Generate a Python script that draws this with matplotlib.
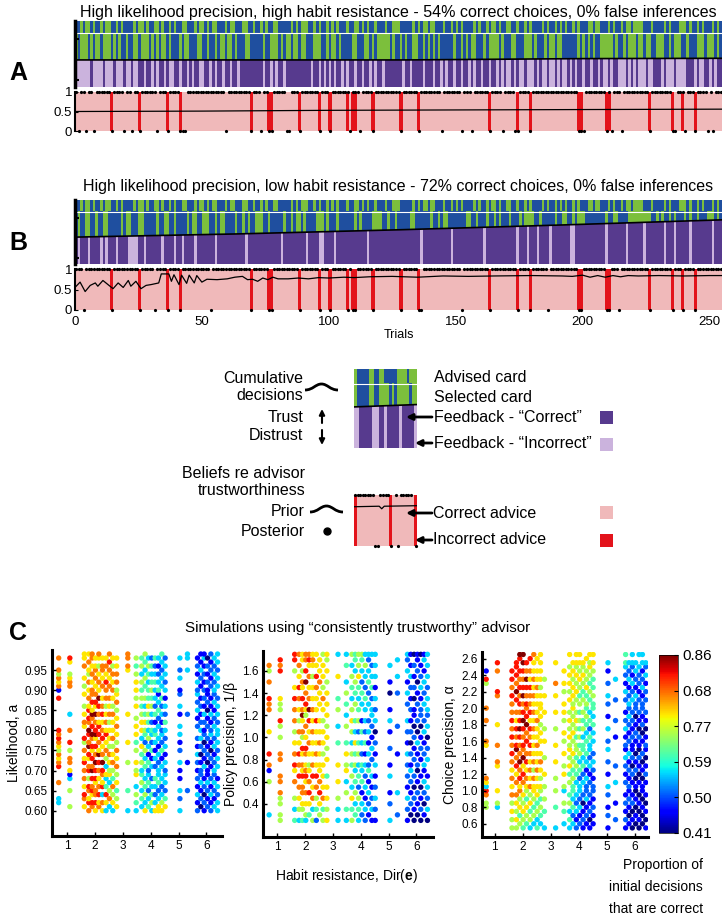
import numpy as np
import matplotlib
matplotlib.use('Agg')
import matplotlib.pyplot as plt
from matplotlib.colors import ListedColormap
from matplotlib.patches import Polygon, PathPatch, Rectangle
from matplotlib.path import Path

plt.rcParams['font.family'] = ['Liberation Sans', 'DejaVu Sans']
plt.rcParams['mathtext.fontset'] = 'custom'
plt.rcParams['mathtext.rm'] = 'Liberation Sans'
plt.rcParams['mathtext.bf'] = 'Liberation Sans:bold'

W, H = 722, 916

# ---- panels A / B: trial-by-trial sequences (1 = blue card / correct feedback)
ADVISED = ("1101001011 0100110101 1110100101 1001011010 1100111010 0101001110 1001110011 "
           "0110101100 1111101010 0011010110 1010111011 0010101101 1101100011 1110101001 "
           "0011101101 0101111010 1101001011 0011011010 1111010110 1010110101 1100100111 "
           "0101101001 0000111011 1101011100 0101101011 10101")
SEL_A = ("0100010100 1000101011 0110010001 0101001011 1010011100 1101101001 0010111001 "
         "1111011000 1010010010 0111000110 1001011110 0111001010 0000101101 0110011010 "
         "1010111110 1101010011 1010000101 1100111000 1011101001 0011111101 0101011000 "
         "0010110100 0100100110 0011010001 1011100010 00101")
FB_A = ("0000001000 0100010001 0010011011 0101101001 1011010110 0110101101 1011011111 "
        "1111011010 1101111111 1110110101 0101101011 0110110101 1011111110 1101111011 "
        "1011010110 1101101011 0110110101 0010100100 0101001001 0100101011 0110110100 "
        "1011000101 0100010011 1010001000 0111010011 01011")
SEL_B = ("1011001101 1001111101 0011100111 1101100110 1111010011 0001101001 1110110101 "
         "1000110111 1101101001 0111100010 1110111111 0101111000 0110110111 1100111111 "
         "0110100111 1111001101 1101101011 1011101000 0110111110 1100110100 0111111110 "
         "1100111100 0000000110 1011010111 0101101110 00101")
FB_B = ("1011101111 0101110111 1000011011 1111011110 1101111011 1111101111 1111111011 "
        "1111111111 1011111111 1011110011 1101111111 1111101111 1111111111 1111110111 "
        "1111111101 1111111111 1011111111 1111011101 1101111011 1111100111 1111111110 "
        "1111111011 1111011111 1101110111 1101111111 10111")

INCORRECT = [14, 25, 36, 41, 69, 76, 77, 88, 96, 100, 107, 109, 110, 117, 128, 135,
             163, 174, 179, 198, 199, 209, 210, 226, 235, 239, 244]
BOTTOM_A = [1, 4, 7, 14, 19, 22, 25, 32, 36, 41, 42, 43, 59, 69, 73, 76, 77, 83, 84, 88,
            96, 100, 108, 112, 117, 128, 135, 144, 152, 156, 163, 168, 173, 174, 179,
            198, 199, 200, 209, 211, 215, 226, 235, 236, 240, 244, 249, 251]
BOTTOM_B = [3, 14, 25, 31, 36, 41, 53, 69, 76, 77, 88, 96, 100, 107, 109, 110, 117, 128,
            135, 136, 152, 163, 174, 179, 186, 198, 199, 209, 210, 214, 226, 235, 239, 244]

CUM_A_T = [0, 130, 200, 255]
CUM_A_Y = [0.41, 0.41, 0.43, 0.435]
CUM_B_T = [0, 64, 128, 192, 255]
CUM_B_Y = [0.42, 0.47, 0.535, 0.61, 0.69]

PRIOR_A_T = [0, 50, 100, 150, 200, 255]
PRIOR_A_Y = [0.50, 0.51, 0.53, 0.54, 0.55, 0.56]
PRIOR_B_T = [0, 2, 4, 6, 8, 9, 11, 13, 15, 17, 19, 21, 22, 24, 26, 28, 30, 33, 34, 37, 38,
             39, 41, 42, 44, 45, 47, 48, 50, 52, 56, 60, 63, 66, 68, 70, 72, 74, 76, 78,
             80, 84, 88, 92, 96, 100, 106, 110, 116, 125, 135, 145, 155, 165, 180, 192,
             196, 200, 203, 206, 209, 212, 215, 218, 222, 230, 240, 250, 255]
PRIOR_B_Y = [0.55, 0.68, 0.45, 0.60, 0.66, 0.58, 0.72, 0.62, 0.52, 0.66, 0.55, 0.72,
             0.58, 0.70, 0.52, 0.60, 0.62, 0.66, 0.88, 0.88, 0.70, 0.86, 0.62, 0.85,
             0.65, 0.85, 0.66, 0.84, 0.68, 0.75, 0.74, 0.76, 0.80, 0.82, 0.74, 0.75,
             0.70, 0.78, 0.74, 0.80, 0.76, 0.76, 0.78, 0.76, 0.79, 0.78, 0.80, 0.79,
             0.81, 0.82, 0.80, 0.83, 0.82, 0.83, 0.84, 0.83, 0.82, 0.85, 0.80, 0.84,
             0.80, 0.84, 0.81, 0.84, 0.83, 0.84, 0.83, 0.84, 0.84]

# legend mini example
MINI_ADV = "0111110011001111100001000"
MINI_SEL = "0111110011000010100000100"
MINI_FB = "0011111000110111110111110"
MINI_LINE_T = [0, 25]
MINI_LINE_Y = [0.52, 0.55]
MINI_RED = [0, 14, 24]
MINI_TOP = [0, 1, 2, 3, 4, 5, 6, 7, 10, 11, 12, 13, 16, 18, 19, 20, 21, 22]
MINI_BOTTOM = [8, 9, 14, 17, 24]
MINI_PRIOR_T = [0, 10, 11, 12, 25]
MINI_PRIOR_Y = [0.77, 0.78, 0.73, 0.78, 0.79]

# ---- panel C: columns of simulations (digit d -> proportion 0.41 + 0.05 d, '.' = none)
X_COLS = [0.70, 1.10, 1.62, 1.78, 1.90, 2.02, 2.14, 2.27, 2.40, 2.52, 2.64, 2.78, 3.18,
          3.48, 3.68, 3.80, 3.92, 4.04, 4.16, 4.28, 4.40, 4.52, 5.05, 5.32, 5.68, 5.80,
          5.92, 6.04, 6.16, 6.28, 6.40]
LIK_COLS = [
    "..33...7.. .876756787 8.......8. 176757..7.",
    ".5...5..31 6.77.5.8.. 7...3..... .7765..68.",
    ".6.78.6.7. 7.86.7.58. .67.6.5..6 .5.6..7.66",
    "7.86.78.5. 87.68.97.8 9.78.86.7. 6.7.56.7.6",
    ".78.687.8. 97.8.68.79 .8.796.8.7 7.6.7.6.77",
    "6.8.77.68. 8.9.7.8.69 8.7.9.68.7 .6.7.76.6.",
    ".76.8.7.6. 7.8.96.7.8 .86.7.8.9. 6.7.6.5.67",
    "6.7.3.86.7 8.9.7.6.8. 7.6.8.7.6. .7.6.77.6.",
    "3.6.8.4.36 .3.5.7.6.8 6.7.6.5.7. 7.8.6.7.6.",
    ".3.7.5.3.6 5.6.7.5.6. 6.5.7.6.7. .7.6.7.8.7",
    "3.6.5.7.4. 5.7.6.5.7. 6.6.7.5.6. 7.6.7.5.6.",
    ".6.5.4.6.5 .7.6.7.5.6 .7.6.5.7.6 5.7.7.6.6.",
    "3....4.... ..5....6.. ....6..... .....67.77",
    "3.4.5.3..6 5.6..5.4.6 .6.5..6.5. 6.6.5.4.5.",
    ".3.4.3.5.4 3.5.4.6.3. 6.6.5.4.5. 4.5.3.5.4.",
    "6.3.5.4.3. .4.3.5.2.4 5.6.4.3.5. .4.5.3.4.5",
    ".4.3.2.4.3 2.4.1.3.5. 3.4.5.6.4. 4.3.4.5.3.",
    "3.5.4.3.2. .3.1.4.2.3 4.2.3.5.4. 5.4.3.4.2.",
    "6.3.2.3.4. .2.3.1.3.4 3.1.4.2.3. 3.4.3.2.4.",
    "66.3.2.4.3 3.2.3.1.3. .3.2.4.3.1 4.3.2.1.3.",
    "6.5.3.2.3. .3.1.4.2.3 2.1.3.2.4. .3.3.2.3.4",
    ".6.4.2.3.3 2.3.1.3.2. 3.4.2.3.1. 3.2.3.3.2.",
    "3..2.3..1. 1.3..2.1.3 .3..1.3..2 1..3.2..3.",
    ".....2.... ..1....... ....2..... .....3..33",
    "2.1.3.1.2. 1.2.3.1.2. .2.1.3.2.3 2.3.1.2.1.",
    ".0.2.1.3.2 2.1.0.2.3. 3.2.1.2.1. .1.2.3.1.1",
    "1.2.0.2.1. .3.1.2.0.2 1.2.3.1.2. 2.1.2.1.31",
    ".2.1.2.3.1 1.0.2.1.2. .2.1.0.2.1 1.2.1.2.0.",
    "2.1.3.1.2. .1.2.0.1.3 2.1.3.1.1. .2.1.2.1.2",
    ".3.1.2.3.2 3.2.1.3.2. .3.2.1.3.2 3.2.3.2.3.",
    "3.3.2.3.1. .3.3.2.3.3 3.2.3.3.2. .3.3.2.3.3",
]
POL_COLS = [
    ".3.....5.1 7.8...6... 778..7.57. .",
    "55.557.77. .77..5.58. 556....878 .",
    "4.3.5..7.6 8.7.6.5.7. 7.8.6..5.8 8",
    "3.5.6.7.8. 7.8.6.7.5. 6.7.8.6.7. 7",
    "4.56.77.86 7.68.57.69 7.8.67.5.6 6",
    "35.6.7.687 6.78.6.7.5 68.7.9.8.7 7",
    ".4.6.8.7.6 5.6.7.6.8. 9.7.6.7.68 7",
    "5.3.7.6.8. 7.6.6.7.6. 7.6.6.5.67 6",
    "2.4.5.7.8. 6.7.6.6.8. 6.6.7.8.6. 6",
    ".5.6.8.7.6 6.6.7.6.6. .6.6.7.6.6 .",
    "5.4.7.6.6. 6.5.6.6.5. 6.7.5.6.6. 5",
    "6.5.6.6.4. .6.5.6.5.6 .6.6.5.6.5 6",
    "3.3.5..6.. 6...4..3.. 5.4...6... 3",
    "3.4..5.3.6 5.6.4..5.3 .4.5.3..4. 3",
    "5.4.6.3.5. 4.5.3.5.6. 5.3.4.5.3. 5",
    ".4.3.5.4.3 5.4.6.3.4. .5.4.5.3.4 4",
    "3.4.5.2.4. 3.5.4.2.5. 4.3.4.6.5. 5",
    ".2.3.1.4.3 4.2.3.4.1. .3.4.2.3.4 5",
    "2.3.1.3.2. 3.1.4.2.3. 3.4.2.3.5. 3",
    ".1.2.3.1.4 2.3.1.3.2. .3.2.4.3.2 3",
    "1.3.2.1.3. .2.3.1.2.3 3.2.4.3.2. 3",
    "1.2.3.2.1. 3.1.2.0.3. 2.3.1.3.3. 3",
    "3..2.1..3. 1..2..1.3. 1..0.1..3. .",
    ".2...3.... ..1....2.. ...2..3..3 .",
    "1.2.3.1.2. 2.3.1.2.3. .2.3.1.3.2 3",
    ".0.2.1.2.3 1.2.0.2.1. 2.1.2.3.1. 1",
    "0.1.2.0.2. .2.1.2.0.1 1.0.2.1.2. 0",
    ".0.1.2.1.0 2.1.3.0.2. .2.1.0.2.1 1",
    "0.2.1.0.1. .1.2.1.0.2 2.1.3.2.1. 0",
    ".1.0.2.3.1 3.2.1.3.2. .3.2.3.1.3 1",
    "0.3.2.3.1. .3.2.0.3.2 3.3.2.3.3. 3",
]
CHO_COLS = [
    ".....55.78 367....... 67....7..7 .....58.1. ...",
    ".....35..6 .....67... 7....6.... ..78....7. 8..",
    "5.5.6.5.7. 6.7.6.7.8. 7.8.7.8.7. 7.8.7.8.8. ...",
    "5.6.5.6.7. .7.6.8.7.9 8.7.8.6.7. .8.9.7.8.8 8..",
    ".5.4.6.5.7 6.8.7.9.7. 7.8.9.8.7. 8.7.8.7.8. .89",
    "4.5.6.5.6. .7.8.6.9.7 8.7.8.9.8. 7.9.8.7.8. 9.9",
    ".4.5.6.4.5 6.7.6.8.7. .8.7.9.8.7 8.7.8.9.7. 8..",
    "3.5.4.6.5. 7.6.7.6.7. 8.7.8.6.8. 7.7.8.6.7. .8.",
    ".3.5.4.5.6 6.7.5.7.6. 6.6.7.6.7. 6.7.6.7.6. 6.7",
    "4.3.5.4.6. 6.6.7.6.6. 7.6.6.7.6. 6.6.7.6.6. .6.",
    ".3.4.5.4.5 6.5.6.7.6. .6.6.5.6.6 6.6.5.6.6. 6.6",
    "3...4..5.. 5..6...5.. .6..5...6. ..6...5... ...",
    "3....4...5 ..5...6... 6...5...6. ..6..7.... 6..",
    ".3..4.5..3 5..6.5..6. .5.6..5.6. 6..5.6..6. ...",
    "3.4.3.5.4. .5.4.6.5.6 5.6.5.6.5. .6.5.6.6.5 ..6",
    ".3.2.4.3.4 4.5.4.5.6. .5.6.5.5.6 5.6.6.5.6. 6..",
    "2.1.3.2.3. .3.4.5.4.5 5.4.5.6.5. .5.6.5.6.5 6.6",
    ".2.1.3.2.3 3.2.4.3.5. 4.5.4.5.4. 5.4.5.6.5. 6.6",
    "1.2.1.0.2. .3.2.4.3.4 4.3.5.4.5. .5.4.5.6.5 6..",
    ".1.2.1.3.2 2.3.1.3.4. .4.3.4.5.4 5.4.6.5.5. .6.",
    "1.0.2.1.2. .2.1.3.2.3 3.4.2.4.3. .4.5.4.5.6 5.6",
    ".1.1.2.1.2 2.1.2.3.2. .3.3.4.3.4 4.5.4.4.5. 6.6",
    "1..2.1..2. 3..1..2..3 .2..3..1.. 2.3..2..1. 3..",
    "..2...1... .3...2.... ..1...2... .2....3... ...",
    "1.2.1.2.1. .2.1.2.3.1 2.1.3.2.1. .2.3.1.2.3 4.4",
    ".1.0.1.2.1 2.1.2.1.3. .2.1.2.3.2 3.2.1.3.2. 3..",
    "0.1.0.2.1. .1.2.0.2.1 1.2.1.2.2. .3.2.3.1.2 3.3",
    ".0.1.0.1.0 1.0.2.1.0. .1.2.1.0.2 2.3.1.2.3. 3..",
    "0.1.0.1.0. .1.0.1.2.0 1.2.0.1.2. .2.1.2.2.3 ..3",
    ".0.0.1.0.1 1.0.1.0.2. .1.0.2.1.2 2.1.3.2.1. 3.3",
    "1.0.1.0.1. .1.2.1.0.1 2.1.0.1.2. .2.2.1.3.2 3..",
]
CBAR_LABELS = ['0.41', '0.50', '0.59', '0.77', '0.68', '0.86']

BLUE, GREEN = '#1f4f9f', '#7cbf3c'
PURPLE, LAVENDER = '#573a8e', '#cbb3dd'
PINK, RED = '#f0b9ba', '#e3131b'
card_cmap = ListedColormap([GREEN, BLUE])
fb_cmap = ListedColormap([LAVENDER, PURPLE])


def box(x0, y0, x1, y1):
    return [x0 / W, 1 - y1 / H, (x1 - x0) / W, (y1 - y0) / H]


def bits(s):
    return np.array([int(c) for c in s.replace(' ', '')])


def draw_cards(ax, advised, selected, feedback, lt, ly, spine=True):
    n = len(selected)
    kw = dict(vmin=0, vmax=1, aspect='auto', interpolation='nearest')
    ax.imshow(advised[None, :], cmap=card_cmap, extent=(0, n, 0.815, 1.0), **kw)
    ax.imshow(selected[None, :], cmap=card_cmap, extent=(0, n, 0, 0.815), **kw)
    im = ax.imshow(feedback[None, :], cmap=fb_cmap, extent=(0, n, 0, 0.815), **kw)
    clip = Polygon(list(zip(lt, ly)) + [(n, 0), (0, 0)], closed=True,
                   transform=ax.transData)
    im.set_clip_path(clip)
    ax.axhline(0.815, color='white', lw=0.8)
    ax.plot(lt, ly, color='black', lw=1.2)
    ax.set_xlim(0, n)
    ax.set_ylim(0, 1)
    for s in ['top', 'right', 'bottom']:
        ax.spines[s].set_visible(False)
    ax.set_xticks([])
    if spine:
        ax.spines['left'].set_linewidth(2.5)
        ax.set_yticks([0.1, 0.72])
        ax.set_yticklabels([])
        ax.tick_params(axis='y', direction='in', length=3, width=1.5)
    else:
        ax.spines['left'].set_visible(False)
        ax.set_yticks([])


def draw_beliefs(ax, n, red, top, bottom, pt, py, spine=True):
    ax.axhspan(0, 1, color=PINK, lw=0)
    ax.bar(np.array(red) + 0.5, 1.0, width=1.3, color=RED, lw=0)
    ax.plot(np.array(top) + 0.5, np.ones(len(top)), 'o', color='black', ms=2.3,
            mew=0, clip_on=False)
    ax.plot(np.array(bottom) + 0.5, np.zeros(len(bottom)), 'o', color='black',
            ms=2.3, mew=0, clip_on=False)
    ax.plot(pt, py, color='black', lw=0.9)
    ax.set_xlim(0, n)
    ax.set_ylim(0, 1)
    for s in ['top', 'right', 'bottom']:
        ax.spines[s].set_visible(False)
    ax.set_xticks([])
    if spine:
        ax.spines['left'].set_linewidth(1.5)
        ax.set_yticks([0, 0.5, 1])
        ax.set_yticklabels(['0', '0.5', '1'], fontsize=9.5)
        ax.tick_params(axis='y', direction='in', length=2, pad=2)
    else:
        ax.spines['left'].set_visible(False)
        ax.set_yticks([])


fig = plt.figure(figsize=(W / 100, H / 100), dpi=100)

adv = bits(ADVISED)
n = len(adv)
trials = np.arange(n)

axA = fig.add_axes(box(75, 21, 722, 87))
draw_cards(axA, adv, bits(SEL_A), bits(FB_A), CUM_A_T, CUM_A_Y)
axA2 = fig.add_axes(box(75, 92, 722, 131))
draw_beliefs(axA2, n, INCORRECT, np.setdiff1d(trials, BOTTOM_A), BOTTOM_A,
             PRIOR_A_T, PRIOR_A_Y)

axB = fig.add_axes(box(75, 200, 722, 264))
draw_cards(axB, adv, bits(SEL_B), bits(FB_B), CUM_B_T, CUM_B_Y)
axB2 = fig.add_axes(box(75, 269, 722, 310))
draw_beliefs(axB2, n, INCORRECT, np.setdiff1d(trials, BOTTOM_B), BOTTOM_B,
             PRIOR_B_T, PRIOR_B_Y)
axB2.set_xticks([0, 50, 100, 150, 200, 250])
axB2.tick_params(axis='x', length=0, labelsize=9.5, pad=4)
axB2.set_xlabel('Trials', fontsize=9, labelpad=1)

# legend example
axL = fig.add_axes(box(354, 369, 417, 448))
draw_cards(axL, bits(MINI_ADV), bits(MINI_SEL), bits(MINI_FB), MINI_LINE_T,
           MINI_LINE_Y, spine=False)
axL2 = fig.add_axes(box(354, 495, 417, 546))
draw_beliefs(axL2, len(MINI_ADV), MINI_RED, MINI_TOP, MINI_BOTTOM, MINI_PRIOR_T,
             MINI_PRIOR_Y, spine=False)

# panel C
specs = [
    (box(52, 650, 222, 836), LIK_COLS, 0.60, 0.01, (0.46, 6.56), (0.537, 1.0),
     np.arange(0.60, 0.96, 0.05), '%.2f', 'Likelihood, a'),
    (box(263, 651, 433, 837), POL_COLS, 0.25, 0.05, (0.48, 6.6), (0.10, 1.78),
     np.arange(0.4, 1.61, 0.2), '%.1f', 'Policy precision, 1/β'),
    (box(482, 652, 648, 837), CHO_COLS, 0.55, 0.05, (0.55, 6.48), (0.44, 2.68),
     np.arange(0.6, 2.61, 0.2), '%.1f', 'Choice precision, α'),
]
for rect, cols, y0, dy, xl, yl, yt, fmt, ylab in specs:
    ax = fig.add_axes(rect)
    xs, ys, cs = [], [], []
    for x, s in zip(X_COLS, cols):
        for i, ch in enumerate(s.replace(' ', '')):
            if ch != '.':
                xs.append(x)
                ys.append(y0 + i * dy)
                cs.append(0.41 + 0.05 * int(ch))
    sc = ax.scatter(xs, ys, c=cs, cmap='jet', vmin=0.41, vmax=0.86, s=15,
                    linewidths=0)
    ax.set_xlim(*xl)
    ax.set_ylim(*yl)
    ax.set_xticks(range(1, 7))
    ax.set_yticks(yt)
    ax.set_yticklabels([fmt % v for v in yt])
    for s in ['top', 'right']:
        ax.spines[s].set_visible(False)
    for s in ['left', 'bottom']:
        ax.spines[s].set_linewidth(2.2)
    ax.tick_params(direction='in', length=3, width=1, labelsize=8.5, pad=3)
    ax.set_ylabel(ylab, fontsize=10, labelpad=3)

cax = fig.add_axes(box(659, 655, 678, 833))
cb = fig.colorbar(sc, cax=cax, ticks=np.linspace(0.41, 0.86, 6))
cb.ax.set_yticklabels(CBAR_LABELS)
cb.ax.tick_params(direction='in', length=3, labelsize=11, pad=3)
cb.outline.set_linewidth(0.5)

# overlay for text and legend drawings (pixel coordinates)
ax0 = fig.add_axes([0, 0, 1, 1])
ax0.set_xlim(0, W)
ax0.set_ylim(H, 0)
ax0.axis('off')

ax0.text(398, 12, 'High likelihood precision, high habit resistance - 54% correct choices, '
         '0% false inferences', fontsize=11.5, ha='center', va='center')
ax0.text(398, 187, 'High likelihood precision, low habit resistance - 72% correct choices, '
         '0% false inferences', fontsize=11.5, ha='center', va='center')
for lab, (x, y) in zip('ABC', [(18, 73), (18, 243), (18, 633)]):
    ax0.text(x, y, lab, fontsize=18, fontweight='bold', ha='center', va='center')

fs = 11.5
ax0.text(303, 387, 'Cumulative\ndecisions', fontsize=fs, ha='right', va='center',
         linespacing=1.1)
ax0.text(303, 417, 'Trust', fontsize=fs, ha='right', va='center')
ax0.text(303, 436, 'Distrust', fontsize=fs, ha='right', va='center')
ax0.text(305, 482, 'Beliefs re advisor\ntrustworthiness', fontsize=fs, ha='right',
         va='center', linespacing=1.1, multialignment='right')
ax0.text(305, 512, 'Prior', fontsize=fs, ha='right', va='center')
ax0.text(305, 531, 'Posterior', fontsize=fs, ha='right', va='center')
ax0.plot([327], [531], 'o', color='black', ms=5)

ax0.text(434, 377, 'Advised card', fontsize=fs, ha='left', va='center')
ax0.text(434, 397, 'Selected card', fontsize=fs, ha='left', va='center')
ax0.text(434, 417, 'Feedback - \u201cCorrect\u201d', fontsize=fs, ha='left', va='center')
ax0.text(434, 444, 'Feedback - \u201cIncorrect\u201d', fontsize=fs, ha='left', va='center')
ax0.text(433, 513, 'Correct advice', fontsize=fs, ha='left', va='center')
ax0.text(433, 540, 'Incorrect advice', fontsize=fs, ha='left', va='center')

arrow = dict(arrowstyle='-|>', lw=2, color='black', mutation_scale=9,
             shrinkA=0, shrinkB=0)
for y, xtip in [(417, 406), (443, 415), (513, 406), (540, 415)]:
    ax0.annotate('', xy=(xtip, y), xytext=(432, y), arrowprops=arrow)
thin = dict(arrowstyle='-|>', lw=1.5, color='black', mutation_scale=8,
            shrinkA=0, shrinkB=0)
ax0.annotate('', xy=(322, 409), xytext=(322, 423), arrowprops=thin)
ax0.annotate('', xy=(322, 445), xytext=(322, 430), arrowprops=thin)

for (x0, y0, x1) in [(305, 390, 338), (310, 512, 343)]:
    xm = (x0 + x1) / 2
    verts = [(x0, y0), (x0 + 8, y0), (xm - 6, y0 - 6), (xm, y0 - 6),
             (xm + 6, y0 - 6), (x1 - 8, y0), (x1, y0)]
    codes = [Path.MOVETO] + [Path.CURVE4] * 6
    ax0.add_patch(PathPatch(Path(verts, codes), fill=False, lw=2, color='black'))

for y, c in [(411, PURPLE), (438, LAVENDER), (506, PINK), (534, RED)]:
    ax0.add_patch(Rectangle((600, y), 13, 13, color=c, lw=0))

ax0.text(358, 628, 'Simulations using \u201cconsistently trustworthy\u201d advisor',
         fontsize=11, ha='center', va='center')
ax0.text(347, 876, r'Habit resistance, Dir($\mathbf{e}$)', fontsize=10, ha='center',
         va='center')
ax0.text(703, 887, 'Proportion of\ninitial decisions\nthat are correct', fontsize=10,
         ha='right', va='center', linespacing=1.75)

fig.savefig('out.png', dpi=100, facecolor='white')
